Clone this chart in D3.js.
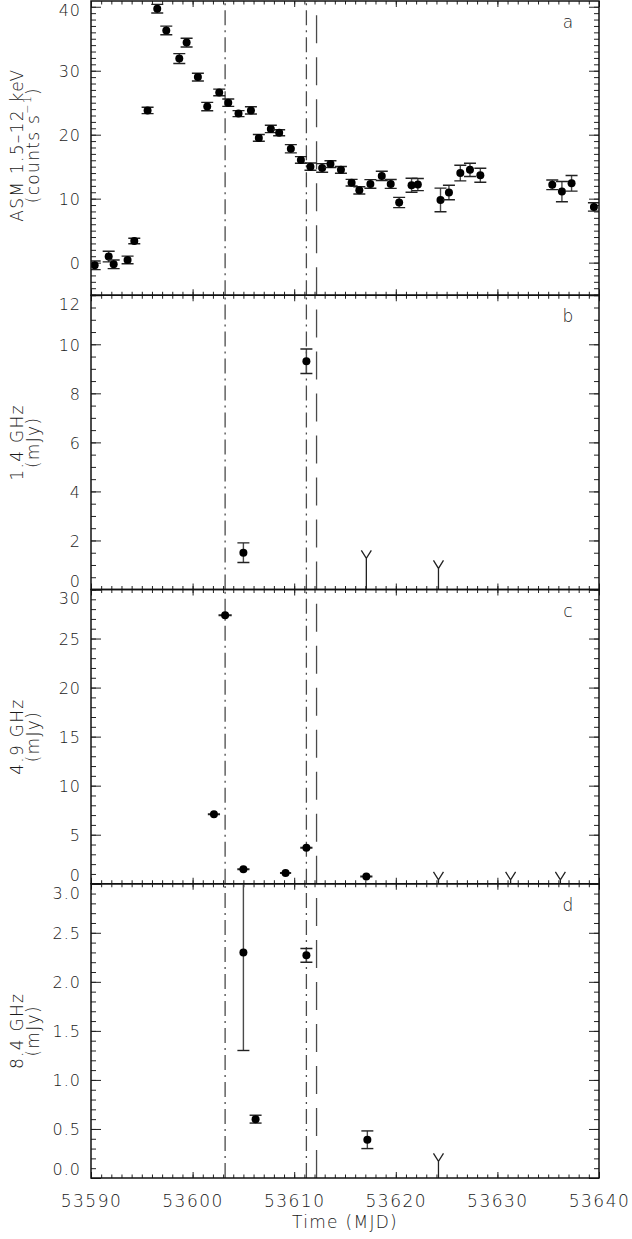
<!DOCTYPE html>
<html><head><meta charset="utf-8">
<script src="https://cdn.jsdelivr.net/npm/d3@7"></script>
<style>
body{margin:0;background:#fff;}
text{font-family:"DejaVu Sans",sans-serif;font-weight:200;fill:#1a1a1a;}
</style></head><body>
<svg id="chart" width="632" height="1239"></svg>
<script>
// ---------------- data ----------------
const xDomain = [53590, 53640];
const xTickValues = [53590, 53600, 53610, 53620, 53630, 53640];

const asmTime = [53590.36, 53591.74, 53592.23, 53593.6, 53594.26, 53595.57, 53596.52, 53597.41, 53598.69, 53599.41,
  53600.52, 53601.44, 53602.62, 53603.51, 53604.52, 53605.74, 53606.52, 53607.7, 53608.52, 53609.67,
  53610.66, 53611.6, 53612.75, 53613.57, 53614.6, 53615.65, 53616.41, 53617.5, 53618.62, 53619.5,
  53620.33, 53621.55, 53622.17, 53624.4, 53625.23, 53626.35, 53627.3, 53628.32, 53635.4, 53636.35,
  53637.3, 53639.5];
const asmRate = [-0.42, 0.94, -0.26, 0.42, 3.38, 23.8, 39.7, 36.3, 31.9, 34.4,
  29.0, 24.4, 26.6, 25.0, 23.3, 23.8, 19.5, 20.9, 20.3, 17.8,
  16.05, 15.0, 14.8, 15.4, 14.5, 12.5, 11.3, 12.3, 13.56, 12.3,
  9.4, 12.1, 12.2, 9.8, 10.96, 14.0, 14.5, 13.66, 12.16, 11.1,
  12.4, 8.7];
const asmErr = [0.68, 0.83, 0.68, 0.6, 0.42, 0.5, 0.68, 0.68, 0.78, 0.68,
  0.6, 0.65, 0.52, 0.57, 0.47, 0.57, 0.52, 0.57, 0.47, 0.65,
  0.52, 0.57, 0.68, 0.52, 0.52, 0.52, 0.57, 0.68, 0.73, 0.7,
  0.8, 1.09, 0.94, 1.84, 1.14, 1.22, 1.04, 1.09, 0.75, 1.58,
  1.22, 0.65];

const ghz14Time = [53605.0, 53611.2];
const ghz14Flux = [1.50, 9.31];
const ghz14Err = [0.40, 0.50];
const ghz14LimTime = [53617.1, 53624.2];
const ghz14Lim = [1.27, 0.86];

const ghz49Time = [53602.1, 53603.2, 53605.0, 53609.15, 53611.2, 53617.1];
const ghz49Flux = [7.09, 27.38, 1.47, 1.09, 3.68, 0.75];
const ghz49TimeErr = [0.6, 0.65, 0.6, 0.55, 0.6, 0.6];
const ghz49LimTime = [53624.2, 53631.3, 53636.2];
const ghz49Lim = [0.40, 0.40, 0.40];

const ghz84Time = [53605.0, 53606.2, 53611.2, 53617.2];
const ghz84Flux = [2.30, 0.60, 2.27, 0.39];
const ghz84Err = [1.00, 0.04, 0.07, 0.09];
const ghz84LimTime = [53624.2];
const ghz84Lim = [0.17];

const dashDotTimes = [53603.2, 53611.2];
const dashedTimes = [53612.2];

const panelLetters = ["a", "b", "c", "d"];
const yTitleLine1 = ["ASM 1.5\u201312 keV", "1.4 GHz", "4.9 GHz", "8.4 GHz"];
const yTitleLine2 = ["(counts s", "(mJy)", "(mJy)", "(mJy)"];
const yTitleSup = ["\u22121", "", "", ""];
const yDomains = [[-5.1, 40.9], [0, 12], [0, 30], [0, 3]];
const yMajorTicks = [[0, 10, 20, 30, 40], [0, 2, 4, 6, 8, 10, 12], [0, 5, 10, 15, 20, 25, 30], [0, 0.5, 1, 1.5, 2, 2.5, 3]];
const yMinorStep = [1, 0.5, 1, 0.1];
const yFormats = ["d", "d", "d", ".1f"];

// ---------------- layout ----------------
const W = 632, H = 1239;
const left = 91, right = 599, top0 = 1, bottom0 = 1178;
const ph = (bottom0 - top0) / 4;
const svg = d3.select("#chart");
const x = d3.scaleLinear().domain(xDomain).range([left, right]);
const xMinor = d3.range(xDomain[0], xDomain[1] + 0.001, 1);

const panels = [
  {time: asmTime, val: asmRate, err: asmErr},
  {time: ghz14Time, val: ghz14Flux, err: ghz14Err, limT: ghz14LimTime, lim: ghz14Lim},
  {time: ghz49Time, val: ghz49Flux, xerr: ghz49TimeErr, limT: ghz49LimTime, lim: ghz49Lim},
  {time: ghz84Time, val: ghz84Flux, err: ghz84Err, limT: ghz84LimTime, lim: ghz84Lim}
];

const lineCol = "#4a4a4a";

panels.forEach((p, i) => {
  const pt = top0 + i * ph, pb = pt + ph;
  const y = d3.scaleLinear().domain(yDomains[i]).range([pb, pt]);
  const g = svg.append("g");
  const clipId = "clip" + i;
  svg.append("clipPath").attr("id", clipId).append("rect")
    .attr("x", left).attr("y", pt).attr("width", right - left).attr("height", ph);

  // reference lines
  const refs = g.append("g").attr("clip-path", `url(#${clipId})`);
  dashDotTimes.forEach(t => {
    refs.append("path").attr("d", `M${x(t)},${pb}L${x(t)},${pt}`)
      .attr("stroke", lineCol).attr("stroke-width", 1.3).attr("fill", "none")
      .attr("stroke-dasharray", "15,5,2,5");
  });
  dashedTimes.forEach(t => {
    refs.append("path").attr("d", `M${x(t)},${pb}L${x(t)},${pt}`)
      .attr("stroke", lineCol).attr("stroke-width", 1.3).attr("fill", "none")
      .attr("stroke-dasharray", "28,14");
  });

  // axes
  const yMinor = d3.range(yDomains[i][0] <= 0 ? Math.ceil(yDomains[i][0] / yMinorStep[i]) * yMinorStep[i] : yDomains[i][0],
    yDomains[i][1] + 1e-9, yMinorStep[i]).map(v => +v.toFixed(4));
  const axG = g.append("g").attr("stroke-width", 1);
  function styleAxis(sel) {
    sel.select(".domain").remove();
    sel.selectAll(".tick line").attr("stroke", "#222");
  }
  axG.append("g").attr("transform", `translate(${left},0)`)
    .call(d3.axisLeft(y).tickValues(yMinor).tickSize(-5).tickFormat("")).call(styleAxis);
  axG.append("g").attr("transform", `translate(${right},0)`)
    .call(d3.axisRight(y).tickValues(yMinor).tickSize(-5).tickFormat("")).call(styleAxis);
  axG.append("g").attr("transform", `translate(${right},0)`)
    .call(d3.axisRight(y).tickValues(yMajorTicks[i]).tickSize(-10).tickFormat("")).call(styleAxis);
  const yl = axG.append("g").attr("transform", `translate(${left},0)`)
    .call(d3.axisLeft(y).tickValues(yMajorTicks[i]).tickSize(-10).tickPadding(10).tickFormat(d3.format(yFormats[i])))
    .call(styleAxis);
  yl.selectAll(".tick text").each(function(d) {
    const ty = y(d);
    const c = Math.max(pt + 8.5, Math.min(pb - 9, ty));
    d3.select(this).attr("y", c - ty).attr("dy", "0.36em")
      .attr("font-size", 16).attr("font-family", null).attr("fill", "#1a1a1a")
      .attr("letter-spacing", 1);
  });
  axG.append("g").attr("transform", `translate(0,${pt})`)
    .call(d3.axisTop(x).tickValues(xMinor).tickSize(-3.5).tickFormat("")).call(styleAxis);
  axG.append("g").attr("transform", `translate(0,${pt})`)
    .call(d3.axisTop(x).tickValues(xTickValues).tickSize(-6).tickFormat("")).call(styleAxis);
  axG.append("g").attr("transform", `translate(0,${pb})`)
    .call(d3.axisBottom(x).tickValues(xMinor).tickSize(-3.5).tickFormat("")).call(styleAxis);
  const xl = axG.append("g").attr("transform", `translate(0,${pb})`)
    .call(d3.axisBottom(x).tickValues(xTickValues).tickSize(-6).tickPadding(17)
      .tickFormat(i === 3 ? d3.format("d") : ""))
    .call(styleAxis);
  xl.selectAll(".tick text").attr("font-size", 17).attr("font-family", null)
    .attr("fill", "#1a1a1a").attr("letter-spacing", 1.5).attr("dy", "0.73em");

  // data
  const dg = g.append("g").attr("clip-path", `url(#${clipId})`);
  p.time.forEach((t, k) => {
    const cx = x(t), cy = y(p.val[k]);
    if (p.err) {
      const y1 = y(p.val[k] - p.err[k]), y2 = y(p.val[k] + p.err[k]);
      dg.append("line").attr("x1", cx).attr("x2", cx).attr("y1", y1).attr("y2", y2)
        .attr("stroke", lineCol).attr("stroke-width", 1.4);
      [y1, y2].forEach(yy => dg.append("line").attr("x1", cx - 6).attr("x2", cx + 6)
        .attr("y1", yy).attr("y2", yy).attr("stroke", "#222").attr("stroke-width", 1.4));
    }
    if (p.xerr) {
      dg.append("line").attr("x1", x(t - p.xerr[k])).attr("x2", x(t + p.xerr[k]))
        .attr("y1", cy).attr("y2", cy).attr("stroke", "#222").attr("stroke-width", 2);
    }
    dg.append("circle").attr("cx", cx).attr("cy", cy).attr("r", 4).attr("fill", "#000");
  });
  if (p.limT) {
    p.limT.forEach((t, k) => {
      const cx = x(t), cy = y(p.lim[k]);
      dg.append("path")
        .attr("d", `M${cx},${y(0)}L${cx},${cy}M${cx - 5},${cy - 8}L${cx},${cy}L${cx + 5},${cy - 8}`)
        .attr("stroke", "#222").attr("stroke-width", 1.3).attr("fill", "none");
    });
  }

  // frame
  g.append("rect").attr("x", left).attr("y", pt).attr("width", right - left).attr("height", ph)
    .attr("fill", "none").attr("stroke", "#111").attr("stroke-width", 1.5);

  // panel letter
  g.append("text").attr("x", 568).attr("y", pt + 21).attr("text-anchor", "middle")
    .attr("dy", "0.36em").attr("font-size", 17).text(panelLetters[i]);

  // y title
  const cyT = (pt + pb) / 2 - (i === 0 ? 3 : 0);
  g.append("text").attr("transform", `translate(17,${cyT}) rotate(-90)`)
    .attr("text-anchor", "middle").attr("dy", "0.36em").attr("font-size", 17)
    .attr("letter-spacing", 1.3).text(yTitleLine1[i]);
  const t2 = g.append("text").attr("transform", `translate(33,${cyT}) rotate(-90)`)
    .attr("text-anchor", "middle").attr("dy", "0.36em").attr("font-size", 17)
    .attr("letter-spacing", 1.3);
  t2.append("tspan").text(yTitleLine2[i]);
  if (yTitleSup[i]) {
    t2.append("tspan").attr("font-size", 11).attr("dy", "-0.7em").text(yTitleSup[i]);
    t2.append("tspan").attr("dy", "0.45em").text(")");
  }
});

svg.append("text").attr("x", (left + right) / 2).attr("y", 1222).attr("text-anchor", "middle")
  .attr("dy", "0.36em").attr("font-size", 17).attr("letter-spacing", 1.3).text("Time (MJD)");
</script>
</body></html>
